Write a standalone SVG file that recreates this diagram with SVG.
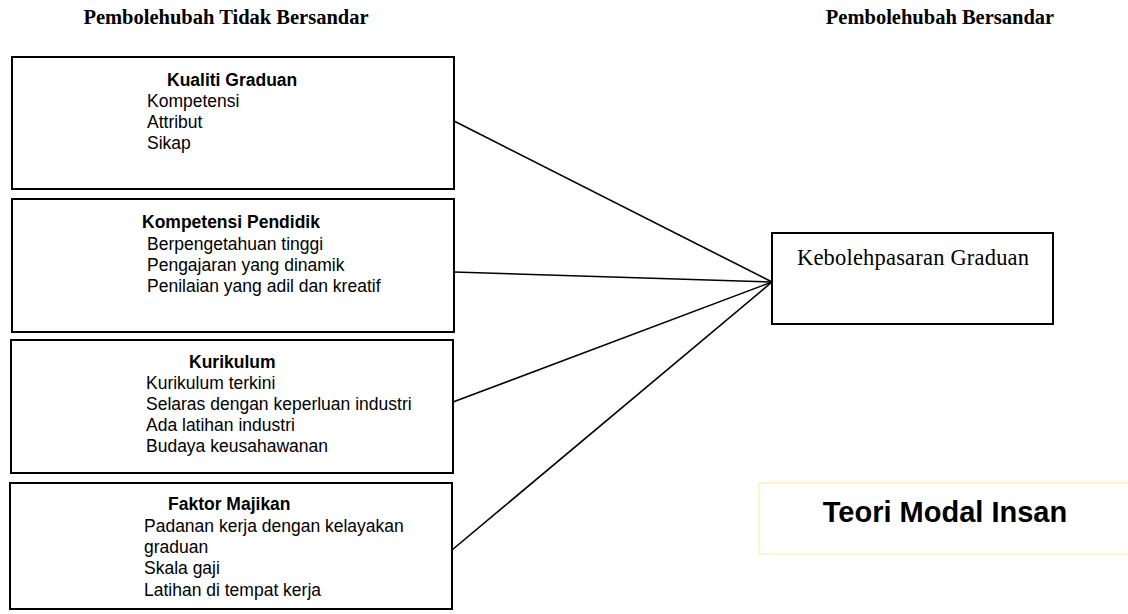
<svg xmlns="http://www.w3.org/2000/svg" width="1128" height="614" viewBox="0 0 1128 614">
<style>
.hdr{font-family:"Liberation Serif","Times New Roman",serif;font-weight:bold;font-size:20.5px;fill:#000}
.box{fill:#fff;stroke:#000;stroke-width:2}
.ttl{font-family:"Liberation Sans",Arial,sans-serif;font-weight:bold;font-size:17.5px;fill:#000}
.itm{font-family:"Liberation Sans",Arial,sans-serif;font-size:17.5px;fill:#000}
.con{stroke:#000;stroke-width:1.6;fill:none}
</style>
<rect width="1128" height="614" fill="#fff"/>
<g id="headers">
<text class="hdr" x="226" y="24" text-anchor="middle">Pembolehubah Tidak Bersandar</text>
<text class="hdr" x="940" y="24" text-anchor="middle">Pembolehubah Bersandar</text>
</g>
<g id="connectors">
<line class="con" x1="454" y1="121" x2="772" y2="282"/>
<line class="con" x1="454" y1="272" x2="772" y2="282"/>
<line class="con" x1="453" y1="402" x2="772" y2="282"/>
<line class="con" x1="452" y1="550" x2="772" y2="282"/>
</g>
<g id="kualiti">
<rect class="box" x="12" y="57" width="442" height="132"/>
<text class="ttl" x="167" y="86">Kualiti Graduan</text>
<text class="itm" x="147" y="107">Kompetensi</text>
<text class="itm" x="147" y="128">Attribut</text>
<text class="itm" x="147" y="149">Sikap</text>
</g>
<g id="pendidik">
<rect class="box" x="12" y="199" width="442" height="133"/>
<text class="ttl" x="142" y="228">Kompetensi Pendidik</text>
<text class="itm" x="147" y="250">Berpengetahuan tinggi</text>
<text class="itm" x="147" y="271">Pengajaran yang dinamik</text>
<text class="itm" x="147" y="292">Penilaian yang adil dan kreatif</text>
</g>
<g id="kurikulum">
<rect class="box" x="11" y="340" width="442" height="133"/>
<text class="ttl" x="189" y="368">Kurikulum</text>
<text class="itm" x="146" y="389">Kurikulum terkini</text>
<text class="itm" x="146" y="410">Selaras dengan keperluan industri</text>
<text class="itm" x="146" y="431">Ada latihan industri</text>
<text class="itm" x="146" y="452">Budaya keusahawanan</text>
</g>
<g id="majikan">
<rect class="box" x="10" y="483" width="442" height="126"/>
<text class="ttl" x="168" y="510">Faktor Majikan</text>
<text class="itm" x="144" y="532">Padanan kerja dengan kelayakan</text>
<text class="itm" x="144" y="553">graduan</text>
<text class="itm" x="144" y="574">Skala gaji</text>
<text class="itm" x="144" y="596">Latihan di tempat kerja</text>
</g>
<g id="kebolehpasaran">
<rect class="box" x="772" y="233" width="281" height="91"/>
<text x="797" y="265" textLength="232" font-family="'Liberation Serif','Times New Roman',serif" font-size="22.5" fill="#000">Kebolehpasaran Graduan</text>
</g>
<g id="teori">
<rect x="759" y="483" width="380" height="71" fill="#fff" stroke="#fff2cc" stroke-width="2"/>
<text x="945" y="522" text-anchor="middle" font-family="'Liberation Sans',Arial,sans-serif" font-weight="bold" font-size="29" fill="#000">Teori Modal Insan</text>
</g>
</svg>
